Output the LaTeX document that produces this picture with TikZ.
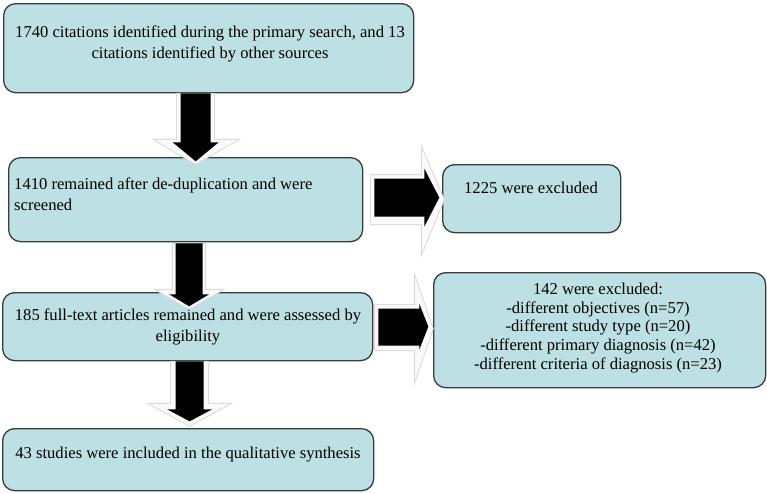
\documentclass[tikz,border=0pt]{standalone}
\usepackage{fontspec}
\setmainfont{Liberation Serif}
\usetikzlibrary{calc}
\definecolor{boxfill}{HTML}{BCE0E3}
\definecolor{boxline}{HTML}{3A3A3A}
\begin{document}
\begin{tikzpicture}[x=1pt,y=-1pt,
  box/.style={draw=boxline, line width=1.3pt, fill=boxfill, rounded corners=12pt, anchor=north west, inner sep=0pt},
  txt/.style={font=\fontsize{16.6}{21}\selectfont, align=center, inner sep=0pt},
  outerarrow/.style={fill=gray!4, draw=gray!28, line width=0.9pt, line join=miter},
  innerarrow/.style={fill=black, draw=none}]
\useasboundingbox (0,0) rectangle (767,493);
% boxes
\node[box, minimum width=410pt, minimum height=89pt] (b1) at (3,3) {};
\node[box, minimum width=354pt, minimum height=84pt] (b2) at (8,157) {};
\node[box, minimum width=370pt, minimum height=68pt] (b3) at (2,292) {};
\node[box, minimum width=371pt, minimum height=62pt] (b4) at (2,428) {};
\node[box, minimum width=178pt, minimum height=68pt] (b5) at (442,164) {};
\node[box, minimum width=332pt, minimum height=115pt] (b6) at (433,272) {};
% texts
\node[txt] (t1) at (210,44) {1740 citations identified during the primary search, and 13\\citations identified by other sources};
\node[txt, align=left, anchor=west] (t2) at (14,194) {1410 remained after de-duplication and were\\screened};
\node[txt] (t3) at (188,327) {185 full-text articles remained and were assessed by\\eligibility};
\node[txt] (t4) at (188,455) {43 studies were included in the qualitative synthesis};
\node[txt] (t5) at (531,188) {1225 were excluded};
\node[txt, font=\fontsize{16.6}{18.8}\selectfont] (t6) at (598,328) {142 were excluded:\\-different objectives (n=57)\\-different study type (n=20)\\-different primary diagnosis (n=42)\\-different criteria of diagnosis (n=23)};
% down arrow b1 -> b2
\begin{scope}[shift={($(b1.south)+(-13,0)$)}]
  \draw[outerarrow] (-19,0) -- (19,0) -- (19,46) -- (44,46) -- (0,71) -- (-43,46) -- (-19,46) -- cycle;
  \fill[innerarrow] (-15,0) -- (15,0) -- (15,49) -- (23,49) -- (0,68) -- (-23,49) -- (-15,49) -- cycle;
\end{scope}
% down arrow b2 -> b3
\begin{scope}[shift={($(b2.south)+(3.5,1)$)}]
  \draw[outerarrow] (-16.5,0) -- (16.5,0) -- (16.5,46) -- (35,46) -- (0,66) -- (-35,46) -- (-16.5,46) -- cycle;
  \fill[innerarrow] (-13.5,0) -- (13.5,0) -- (13.5,51) -- (20,51) -- (0,63) -- (-20,51) -- (-13.5,51) -- cycle;
\end{scope}
% down arrow b3 -> b4
\begin{scope}[shift={($(b3.south)+(2,0)$)}]
  \draw[outerarrow] (-19,0) -- (19,0) -- (19,42) -- (42,42) -- (0,65) -- (-42,42) -- (-19,42) -- cycle;
  \fill[innerarrow] (-14,0) -- (14,0) -- (14,48) -- (22.5,48) -- (0,60) -- (-22.5,48) -- (-14,48) -- cycle;
\end{scope}
% right arrow b2 -> b5
\begin{scope}[shift={(b2.east)}]
  \draw[outerarrow] (7,-25) -- (58,-25) -- (58,-54) -- (81,0) -- (58,56) -- (58,25) -- (7,25) -- cycle;
  \fill[innerarrow] (11,-21) -- (61,-21) -- (61,-31) -- (76,-2) -- (61,27) -- (61,17) -- (11,17) -- cycle;
\end{scope}
% right arrow b3 -> b6
\begin{scope}[shift={(b3.east)}]
  \draw[outerarrow] (1,-22) -- (41,-22) -- (41,-53) -- (60,2) -- (41,57) -- (41,24) -- (1,24) -- cycle;
  \fill[innerarrow] (5,-18) -- (46,-18) -- (46,-23) -- (55,0) -- (46,23) -- (46,19) -- (5,19) -- cycle;
\end{scope}
\end{tikzpicture}
\end{document}
